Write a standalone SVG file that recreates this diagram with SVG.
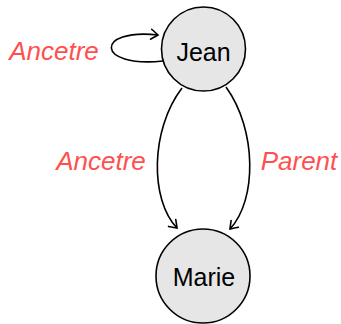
<svg xmlns="http://www.w3.org/2000/svg" width="341" height="324" viewBox="0 0 341 324">
  <style>
    .node circle { fill: #e6e6e6; stroke: #000; stroke-width: 1.6; }
    .node text { font-family: "Liberation Sans", Arial, sans-serif; font-size: 25px; fill: #000; text-anchor: middle; }
    .edge { fill: none; stroke: #000; stroke-width: 1.6; marker-end: url(#tip); }
    .label { font-family: "Liberation Sans", Arial, sans-serif; font-style: italic; font-size: 26px; fill: #ff5050; text-anchor: middle; }
  </style>
  <defs>
    <marker id="tip" viewBox="-8 -6 10 12" refX="0" refY="0" markerWidth="10" markerHeight="12" markerUnits="userSpaceOnUse" orient="auto">
      <path d="M -7,-5 Q -2,-1.5 0,0 Q -2,1.5 -7,5" fill="none" stroke="#000" stroke-width="1.6" stroke-linecap="round"/>
    </marker>
  </defs>

  <g id="edges">
    <path class="edge" d="M 163,61 C 95,68 95,28 158,35"/>
    <path class="edge" d="M 182,88 C 150,130 150,200 177,228"/>
    <path class="edge" d="M 226,87 C 257,130 257,200 230,229"/>
    <text class="label" x="54" y="60">Ancetre</text>
    <text class="label" x="101" y="170">Ancetre</text>
    <text class="label" x="299" y="170">Parent</text>
  </g>

  <g id="jean" class="node">
    <circle cx="203.5" cy="49" r="42"/>
    <text x="203.5" y="61">Jean</text>
  </g>

  <g id="marie" class="node">
    <circle cx="203" cy="276" r="47"/>
    <text x="204" y="286">Marie</text>
  </g>
</svg>
